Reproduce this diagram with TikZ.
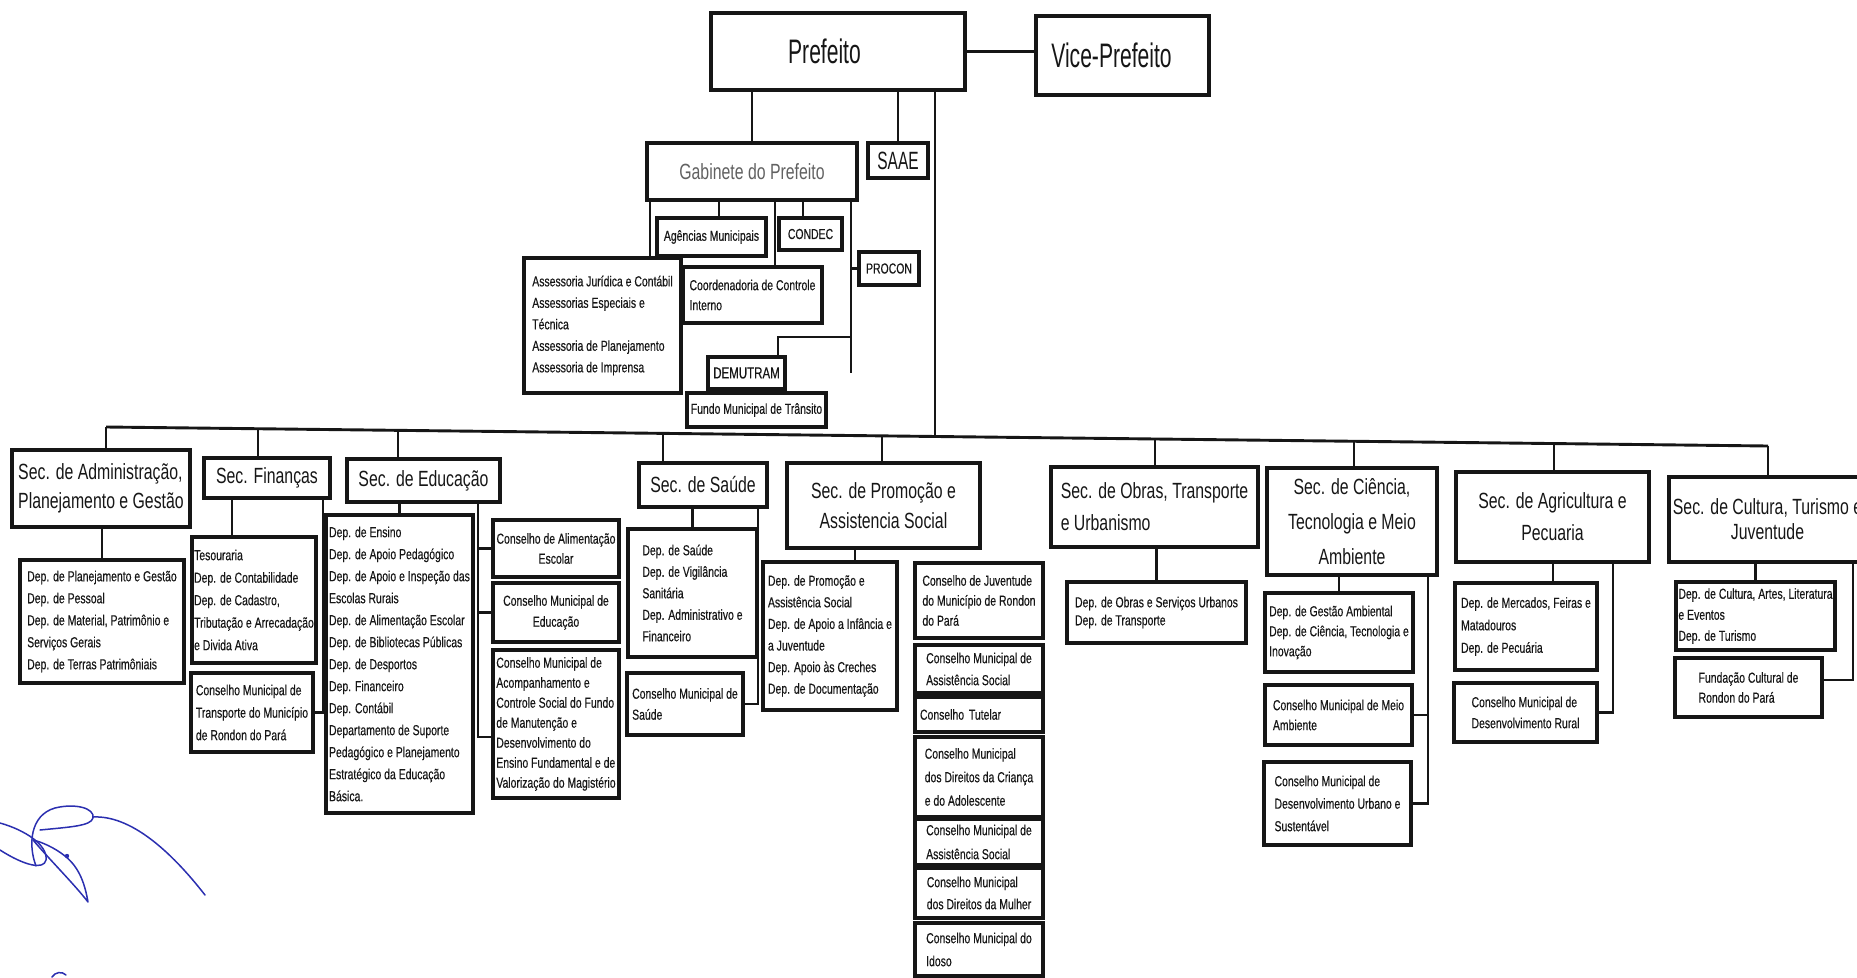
\documentclass[tikz,border=0pt]{standalone}
\usepackage{fontspec}
\setmainfont{Liberation Sans}
\newfontfamily\fs[FakeStretch=0.72]{Liberation Sans}
\newfontfamily\fsb[FakeStretch=0.72,FakeBold=0.35]{Liberation Sans}
\newfontfamily\fn[FakeStretch=0.62]{Liberation Sans}
\definecolor{ink}{HTML}{161616}
\definecolor{sigblue}{HTML}{2B2FB0}
\tikzset{
  bx/.style={draw=ink, line width=3.1pt, inner xsep=1.5pt, inner ysep=0pt, text=ink,
    align=left, font=\fsb\fontsize{14.5}{21}\selectfont},
  ttl/.style={font=\fs\fontsize{22}{#1}\selectfont, align=center},
  ttl/.default=29,
  sm/.style={font=\fsb\fontsize{14.5}{#1}\selectfont},
  sm/.default=21,
  ln/.style={draw=ink, line width=2.9pt},
}
\newcommand\bxn[7][]{\node[bx,#1,minimum width={(#5-#3)*1pt},minimum height={(#6-#4)*1pt}] (#2) at ({(#3+#5)/2},{(#4+#6)/2}) {#7};}
\begin{document}
\begin{tikzpicture}[x=1pt,y=-1pt]
\useasboundingbox (0,0) rectangle (1857,977);
\clip (0,0) rectangle (1857,977);

% ---------- top level ----------
\bxn[font=\fn\fontsize{34}{40}\selectfont]{pref}{711}{13}{965}{90}{Prefeito\hspace*{27pt}}
\bxn[font=\fn\fontsize{34}{40}\selectfont]{vice}{1036}{16}{1209}{95}{Vice-Prefeito\hspace*{22pt}}
\bxn[font=\fs\fontsize{22}{28}\selectfont, text=black!62]{gab}{647}{143}{857}{200}{Gabinete do Prefeito}
\bxn[font=\fn\fontsize{25}{30}\selectfont]{saae}{868}{143}{928}{178}{SAAE}
\bxn{agen}{657}{218}{766}{256}{Agências Municipais}
\bxn{condec}{779}{218}{842}{250}{CONDEC}
\bxn{procon}{859}{252}{919}{285}{PROCON}
\bxn[sm=21.5]{asse}{524}{258}{681}{393}{Assessoria Jurídica e Contábil\\Assessorias Especiais e\\Técnica\\Assessoria de Planejamento\\Assessoria de Imprensa}
\bxn[sm=20]{coord}{683}{267}{822}{323}{Coordenadoria de Controle\\Interno}
\bxn[font=\fsb\fontsize{16}{20}\selectfont]{demutram}{708}{357}{785}{389}{DEMUTRAM}
\bxn{fundo}{687}{393}{826}{427}{Fundo Municipal de Trânsito}

\draw[ln] (pref.east) -- (pref.east -| vice.west);
\draw[ln] (gab.north |- pref.south) -- (gab.north);
\draw[ln] (saae.north |- pref.south) -- (saae.north);

\coordinate (gA) at (650,0);
\coordinate (gB) at (719,0);
\coordinate (gC) at (775,0);
\coordinate (gD) at (803,0);
\coordinate (gE) at (851,0);
\coordinate (gEend) at (851,373);
\coordinate (dmk) at (778,337);
\draw[ln] (gA |- gab.south) -- (gA |- asse.north);
\draw[ln] (gB |- gab.south) -- (gB |- agen.north);
\draw[ln] (gC |- gab.south) -- (gC |- coord.north);
\draw[ln] (gD |- gab.south) -- (gD |- condec.north);
\draw[ln] (gE |- gab.south) -- (gEend);
\draw[ln] (gE |- procon.west) -- (procon.west);
\draw[ln] (gE |- dmk) -- (dmk) -- (dmk |- demutram.north);
\draw[ln] (demutram.south) -- (demutram.south |- fundo.north);

% ---------- secretarias ----------
\bxn[ttl,align=left]{adm}{12}{450}{190}{527}{Sec. de Administração,\\Planejamento e Gestão}
\bxn[ttl]{fin}{204}{458}{330}{498}{Sec. Finanças}
\bxn[ttl]{edu}{347}{459}{500}{502}{Sec. de Educação}
\bxn[ttl]{sau}{639}{463}{767}{507}{Sec. de Saúde}
\bxn[ttl=30]{pro}{787}{463}{980}{548}{Sec. de Promoção e\\Assistencia Social}
\bxn[ttl=32,align=left]{obr}{1051}{467}{1258}{547}{Sec. de Obras, Transporte\\e Urbanismo}
\bxn[ttl=35]{cie}{1267}{468}{1437}{575}{Sec. de Ciência,\\Tecnologia e Meio\\Ambiente}
\bxn[ttl=32]{agr}{1456}{472}{1649}{562}{Sec. de Agricultura e\\Pecuaria}
\bxn[ttl=25]{cul}{1669}{477}{1866}{562}{Sec. de Cultura, Turismo e\\Juventude}

% bus
\coordinate (busL) at (106,427);
\coordinate (busR) at (1768,446);
\coordinate (bFin) at (258,428.7);
\coordinate (bEdu) at (398,430.3);
\coordinate (bSau) at (663,433.4);
\coordinate (bPro) at (882,435.9);
\coordinate (bP)   at (935,436.5);
\coordinate (bObr) at (1155,439.0);
\coordinate (bCie) at (1354,441.3);
\coordinate (bAgr) at (1554,443.6);
\draw[ln] (busL) -- (busR);
\draw[ln] (bP |- pref.south) -- (bP);
\draw[ln] (busL) -- (busL |- adm.north);
\draw[ln] (bFin) -- (bFin |- fin.north);
\draw[ln] (bEdu) -- (bEdu |- edu.north);
\draw[ln] (bSau) -- (bSau |- sau.north);
\draw[ln] (bPro) -- (bPro |- pro.north);
\draw[ln] (bObr) -- (bObr |- obr.north);
\draw[ln] (bCie) -- (bCie |- cie.north);
\draw[ln] (bAgr) -- (bAgr |- agr.north);
\draw[ln] (busR) -- (busR |- cul.north);

% ---------- departments / councils ----------
\bxn[sm=22]{admd}{20}{560}{184}{683}{Dep. de Planejamento e Gestão\\Dep. de Pessoal\\Dep. de Material, Patrimônio e\\Serviços Gerais\\Dep. de Terras Patrimôniais}
\bxn[sm=22.5]{findd}{192}{537}{316}{663}{Tesouraria\\Dep. de Contabilidade\\Dep. de Cadastro,\\Tributação e Arrecadação\\e Divida Ativa}
\bxn[sm=22.5]{finc}{191}{673}{313}{752}{Conselho Municipal de\\Transporte do Município\\de Rondon do Pará}
\bxn[sm=22]{edud}{326}{515}{473}{813}{Dep. de Ensino\\Dep. de Apoio Pedagógico\\Dep. de Apoio e Inspeção das\\Escolas Rurais\\Dep. de Alimentação Escolar\\Dep. de Bibliotecas Públicas\\Dep. de Desportos\\Dep. Financeiro\\Dep. Contábil\\Departamento de Suporte\\Pedagógico e Planejamento\\Estratégico da Educação\\Básica.}
\bxn[sm=20,align=center]{edc1}{493}{520}{619}{577}{Conselho de Alimentação\\Escolar}
\bxn[sm=21,align=center]{edc2}{493}{583}{619}{642}{Conselho Municipal de\\Educação}
\bxn[sm=20]{edc3}{493}{650}{619}{798}{Conselho Municipal de\\Acompanhamento e\\Controle Social do Fundo\\de Manutenção e\\Desenvolvimento do\\Ensino Fundamental e de\\Valorização do Magistério}
\bxn[sm=21.5]{saud}{628}{529}{757}{657}{Dep. de Saúde\\Dep. de Vigilância\\Sanitária\\Dep. Administrativo e\\Financeiro}
\bxn[sm=21]{sauc}{627}{673}{743}{735}{Conselho Municipal de\\Saúde}
\bxn[sm=21.6]{prod}{763}{562}{897}{710}{Dep. de Promoção e\\Assistência Social\\Dep. de Apoio a Infância e\\a Juventude\\Dep. Apoio às Creches\\Dep. de Documentação}
\bxn[sm=20]{pc1}{915}{563}{1043}{638}{Conselho de Juventude\\do Município de Rondon\\do Pará}
\bxn[sm=22]{pc2}{915}{645}{1043}{693}{Conselho Municipal de\\Assistência Social}
\bxn[text width=118pt]{pc3}{915}{697}{1043}{732}{Conselho Tutelar}
\bxn[sm=23.5]{pc4}{915}{737}{1043}{817}{Conselho Municipal\\dos Direitos da Criança\\e do Adolescente}
\bxn[sm=24]{pc5}{915}{819}{1043}{865}{Conselho Municipal de\\Assistência Social}
\bxn[sm=22]{pc6}{915}{868}{1043}{918}{Conselho Municipal\\dos Direitos da Mulher}
\bxn[sm=23]{pc7}{915}{923}{1043}{976}{Conselho Municipal do\\Idoso}
\bxn[sm=18]{obrd}{1067}{582}{1246}{643}{Dep. de Obras e Serviços Urbanos\\Dep. de Transporte}
\bxn[sm=20]{cied}{1265}{593}{1413}{672}{Dep. de Gestão Ambiental\\Dep. de Ciência, Tecnologia e\\Inovação}
\bxn[sm=20]{ciec1}{1265}{685}{1412}{745}{Conselho Municipal de Meio\\Ambiente}
\bxn[sm=22.5]{ciec2}{1264}{762}{1411}{845}{Conselho Municipal de\\Desenvolvimento Urbano e\\Sustentável}
\bxn[sm=22.5]{agrd}{1455}{583}{1597}{670}{Dep. de Mercados, Feiras e\\Matadouros\\Dep. de Pecuária}
\bxn[sm=21]{agrc}{1454}{683}{1597}{742}{Conselho Municipal de\\Desenvolvimento Rural}
\bxn[sm=21]{culd}{1676}{582}{1835}{650}{Dep. de Cultura, Artes, Literatura\\e Eventos\\Dep. de Turismo}
\bxn[sm=20]{fund}{1675}{658}{1822}{717}{Fundação Cultural de\\Rondon do Pará}

% connectors below secretarias
\draw[ln] (admd.north |- adm.south) -- (admd.north);
\coordinate (fA) at (232,0);
\coordinate (fB) at (323,0);
\draw[ln] (fA |- fin.south) -- (fA |- findd.north);
\draw[ln] (fB |- fin.south) -- (fB |- finc.east) -- (finc.east);
\draw[ln] (edud.north |- edu.south) -- (edud.north);
\coordinate (eB) at (478,0);
\coordinate (e3) at (493,737);
\draw[ln] (eB |- edu.south) -- (eB |- e3) -- (e3);
\draw[ln] (eB |- edc1.west) -- (edc1.west);
\draw[ln] (eB |- edc2.west) -- (edc2.west);
\draw[ln] (saud.north |- sau.south) -- (saud.north);
\coordinate (sB) at (758,0);
\draw[ln] (sB |- sau.south) -- (sB |- sauc.east) -- (sauc.east);
\coordinate (pA) at (855,0);
\draw[ln] (pA |- pro.south) -- (pA |- prod.north);
\draw[ln] (obrd.north |- obr.south) -- (obrd.north);
\draw[ln] (cied.north |- cie.south) -- (cied.north);
\coordinate (cB) at (1428,0);
\draw[ln] (cB |- cie.south) -- (cB |- ciec2.east) -- (ciec2.east);
\draw[ln] (cB |- ciec1.east) -- (ciec1.east);
\coordinate (aA) at (1553,0);
\coordinate (aB) at (1613,0);
\draw[ln] (aA |- agr.south) -- (aA |- agrd.north);
\draw[ln] (aB |- agr.south) -- (aB |- agrc.east) -- (agrc.east);
\draw[ln] (culd.north |- cul.south) -- (culd.north);
\coordinate (uB) at (1853,0);
\coordinate (fnk) at (1822,680);
\draw[ln] (uB |- cul.south) -- (uB |- fnk) -- (fnk);

% ---------- signature ----------
\begin{scope}[draw=sigblue, line width=1.5pt, line cap=round, line join=round]
\draw (0,823) .. controls (25,830) and (48,845) .. (46,860) .. controls (44,870) and (25,866) .. (0,850);
\draw (33,840) .. controls (50,860) and (75,885) .. (88,902) .. controls (85,885) and (80,868) .. (65,856) .. controls (55,848) and (42,842) .. (33,840);
\draw (36,866) .. controls (28,845) and (30,815) .. (55,808) .. controls (75,803) and (95,808) .. (93,818) .. controls (91,826) and (70,827) .. (40,830);
\draw (93,817) .. controls (130,815) and (170,850) .. (205,895);
\fill[sigblue] (67,856) circle (2.2pt);
\draw (52,977) .. controls (55,972) and (62,971) .. (66,975);
\end{scope}
\end{tikzpicture}
\end{document}
